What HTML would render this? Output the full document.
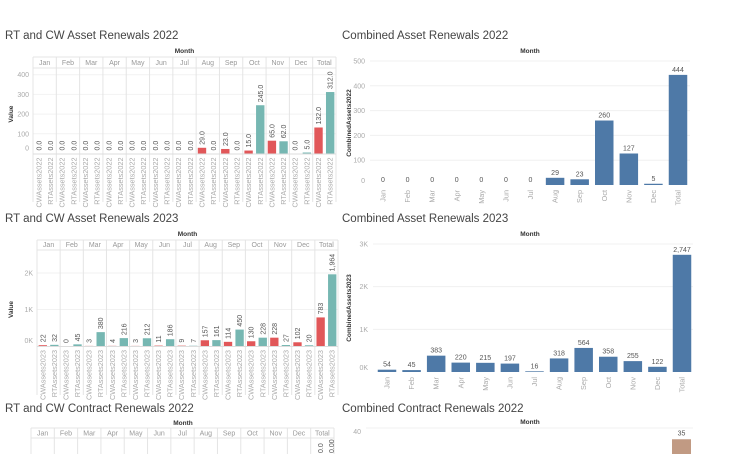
<!DOCTYPE html>
<html><head><meta charset="utf-8">
<style>
html,body{margin:0;padding:0;background:#fff;overflow:hidden;width:736px;height:454px;}
svg{display:block;font-family:"Liberation Sans",sans-serif;overflow:hidden;}
.title{font-size:11.5px;fill:#444;}
.mh{font-size:6.5px;fill:#333;font-weight:bold;}
.hd{font-size:7px;fill:#999;}
.tk{font-size:7px;fill:#aaa;}
.yt{font-size:6.5px;fill:#333;font-weight:bold;}
.vl{font-size:7px;fill:#555;}
.xl{font-size:7.3px;fill:#aaa;}
</style></head>
<body>
<svg id="s" width="736" height="454" viewBox="0 0 736 454"></svg>
<script>
const months = ["Jan","Feb","Mar","Apr","May","Jun","Jul","Aug","Sep","Oct","Nov","Dec","Total"];
const cw2022 = [0,0,0,0,0,0,0,29,23,15,65,0,132];
const rt2022 = [0,0,0,0,0,0,0,0,0,245,62,5,312];
const cw2023 = [22,0,3,4,3,11,9,157,114,130,228,102,783];
const rt2023 = [32,45,380,216,212,186,7,161,450,228,27,20,1964];
const comb2022 = [0,0,0,0,0,0,0,29,23,260,127,5,444];
const comb2023 = [54,45,383,220,215,197,16,318,564,358,255,122,2747];
const ticks2022 = [0,100,200,300,400];
const ticksComb2022 = [0,100,200,300,400,500];
const ticks2023 = [0,1000,2000];
const ticksComb2023 = [0,1000,2000,3000];
const contractTotal = [35];

const NS="http://www.w3.org/2000/svg";
const svg=document.getElementById('s');
function el(tag,attrs,parent,text){
  const e=document.createElementNS(NS,tag);
  for(const k in attrs)e.setAttribute(k,attrs[k]);
  if(text!==undefined)e.textContent=text;
  (parent||svg).appendChild(e);return e;
}
function kfmt(v){return v===0?"0K":(v/1000)+"K";}
function comma(v){return v.toLocaleString('en-US');}

function title(x,y,t,name){
  const e=el('text',{x:x,y:y,class:'title'},svg,t);
  
  
}

function grouped(o){
  const g=el('g',{});
  
  
  const colW=(o.x1-o.x0)/13;
  const y=v=>o.zeroY-(v/o.max)*(o.zeroY-o.topY);
  const mh=el('text',{x:(o.x0+o.x1)/2,y:o.hTop-4,class:'mh','text-anchor':'middle'},g,'Month');
  
  
  el('line',{x1:o.x0,x2:o.x1,y1:o.hTop,y2:o.hTop,stroke:'#e4e4e4'},g);
  el('line',{x1:o.x0,x2:o.x1,y1:o.hBot,y2:o.hBot,stroke:'#e4e4e4'},g);
  o.ticks.forEach(t=>{
    const ty=y(t);
    if(t>0)el('line',{x1:o.x0,x2:o.x1,y1:ty,y2:ty,stroke:'#f2f2f2'},g);
    const tx=el('text',{x:o.x0-4,y:(t===0?ty-3:ty+2.5),class:'tk','text-anchor':'end'},g,o.tfmt(t));
    
    
  });
  const yt=el('text',{transform:`translate(${o.ytX},${(o.topY+o.zeroY)/2}) rotate(-90)`,class:'yt','text-anchor':'middle'},g,'Value');
  
  
  for(let i=0;i<=13;i++){
    const lx=o.x0+i*colW;
    el('line',{x1:lx,x2:lx,y1:o.hTop,y2:o.bottom,stroke:'#e4e4e4'},g);
  }
  el('line',{x1:o.x0,x2:o.x1,y1:o.zeroY+0.5,y2:o.zeroY+0.5,stroke:'#ddd'},g);
  months.forEach((m,i)=>{
    const cx=o.x0+i*colW;
    const h=el('text',{x:cx+colW/2,y:o.hBot-3,class:'hd','text-anchor':'middle'},g,m);
    
    
    [[o.a,'#e15759',o.la,0.25],[o.b,'#76b7b2',o.lb,0.75]].forEach(([arr,col,lab,f])=>{
      const v=arr[i];const bx=cx+colW*f;const bw=colW*0.36;
      const top=y(v);
      const r=el('rect',{x:bx-bw/2,y:top,width:bw,height:Math.max(0,o.zeroY-top),fill:col},g);
      
      
      const vt=el('text',{transform:`translate(${bx+2.5},${top-3}) rotate(-90)`,class:'vl'},g,o.vfmt(v));
      
      
      const xt=el('text',{transform:`translate(${bx+2.5},${o.zeroY+4}) rotate(-90)`,class:'xl','text-anchor':'end'},g,lab);
      
      
    });
  });
}

function combined(o){
  const g=el('g',{});
  
  
  const step=(o.lastC-o.firstC)/12;
  const y=v=>o.zeroY-(v/o.max)*(o.zeroY-o.topY);
  const mh=el('text',{x:530,y:o.mY,class:'mh','text-anchor':'middle'},g,'Month');
  
  
  o.ticks.forEach(t=>{
    const ty=y(t);
    if(t>0)el('line',{x1:o.gx0,x2:o.gx1,y1:ty,y2:ty,stroke:'#f0f0f0'},g);
    const tx=el('text',{x:o.gx0-5,y:(t===0?ty-2:ty+2.5),class:'tk','text-anchor':'end'},g,o.tfmt(t));
    
    
  });
  const yt=el('text',{transform:`translate(${o.ytX},${(o.topY+o.zeroY)/2}) rotate(-90)`,class:'yt','text-anchor':'middle'},g,o.yTitle);
  
  
  months.forEach((m,i)=>{
    const cx=o.firstC+i*step;const v=o.data[i];const top=y(v);
    const r=el('rect',{x:cx-9.25,y:top,width:18.5,height:Math.max(0,o.zeroY-top),fill:'#4e79a7'},g);
    
    
    const vt=el('text',{x:cx,y:top-3,class:'vl','text-anchor':'middle'},g,comma(v));
    
    
    const xt=el('text',{transform:`translate(${cx+2.5},${o.zeroY+5}) rotate(-90)`,class:'xl','text-anchor':'end'},g,m);
    
    
  });
}

title(5,39,'RT and CW Asset Renewals 2022','title-rt-cw-2022');
title(342,39,'Combined Asset Renewals 2022','title-combined-2022');
title(5,222,'RT and CW Asset Renewals 2023','title-rt-cw-2023');
title(342,222,'Combined Asset Renewals 2023','title-combined-2023');
title(5,412,'RT and CW Contract Renewals 2022','title-rt-cw-contract-2022');
title(342,412,'Combined Contract Renewals 2022','title-combined-contract-2022');

grouped({name:'chart-rt-cw-2022',x0:33,x1:336,hTop:57,hBot:68,zeroY:153.5,topY:74.7,max:400,ticks:ticks2022,a:cw2022,b:rt2022,
  tfmt:t=>String(t),vfmt:v=>v.toFixed(1),la:'CWAssets2022',lb:'RTAssets2022',bottom:202,ytX:13});
grouped({name:'chart-rt-cw-2023',x0:37,x1:338,hTop:240,hBot:250,zeroY:346,topY:273,max:2000,ticks:ticks2023,a:cw2023,b:rt2023,
  tfmt:kfmt,vfmt:comma,la:'CWAssets2023',lb:'RTAssets2023',bottom:395,ytX:13});
combined({name:'chart-combined-2022',firstC:383,lastC:678,zeroY:185,topY:61,max:500,ticks:ticksComb2022,data:comb2022,
  tfmt:t=>String(t),gx0:370,gx1:690,ytX:351,yTitle:'CombinedAssets2022',mY:53});
combined({name:'chart-combined-2023',firstC:387,lastC:682,zeroY:372,topY:244,max:3000,ticks:ticksComb2023,data:comb2023,
  tfmt:kfmt,gx0:373,gx1:693,ytX:351,yTitle:'CombinedAssets2023',mY:236});

(function(){
  const g=el('g',{});
  
  
  const x0=31,x1=334,colW=(x1-x0)/13;
  const mh=el('text',{x:183,y:425,class:'mh','text-anchor':'middle'},g,'Month');
  
  
  el('line',{x1:x0,x2:x1,y1:428,y2:428,stroke:'#e4e4e4'},g);
  el('line',{x1:x0,x2:x1,y1:438,y2:438,stroke:'#e4e4e4'},g);
  for(let i=0;i<=13;i++){const lx=x0+i*colW;el('line',{x1:lx,x2:lx,y1:428,y2:454,stroke:'#e4e4e4'},g);}
  months.forEach((m,i)=>{
    const h=el('text',{x:x0+i*colW+colW/2,y:435.5,class:'hd','text-anchor':'middle'},g,m);
    
    
  });
  const a=el('text',{transform:'translate(323,453) rotate(-90)',class:'vl'},g,'0.0');
  
  
  const b=el('text',{transform:'translate(334,453) rotate(-90)',class:'vl'},g,'0.00');
  
  

  const g2=el('g',{});
  
  
  const mh2=el('text',{x:530,y:424,class:'mh','text-anchor':'middle'},g2,'Month');
  
  
  el('line',{x1:366,x2:693,y1:428,y2:428,stroke:'#f0f0f0'},g2);
  const t40=el('text',{x:361,y:434,class:'tk','text-anchor':'end'},g2,'40');
  
  
  const zeroY=428+40*2.25, y=v=>zeroY-v*2.25;
  const top=y(contractTotal[0]);
  const r=el('rect',{x:672,y:top,width:19,height:Math.max(0,Math.min(zeroY,454)-top),fill:'#c19a83'},g2);
  
  
  const vt=el('text',{x:681.5,y:top-4,class:'vl','text-anchor':'middle'},g2,String(contractTotal[0]));
  
  
})();
</script>
</body></html>
